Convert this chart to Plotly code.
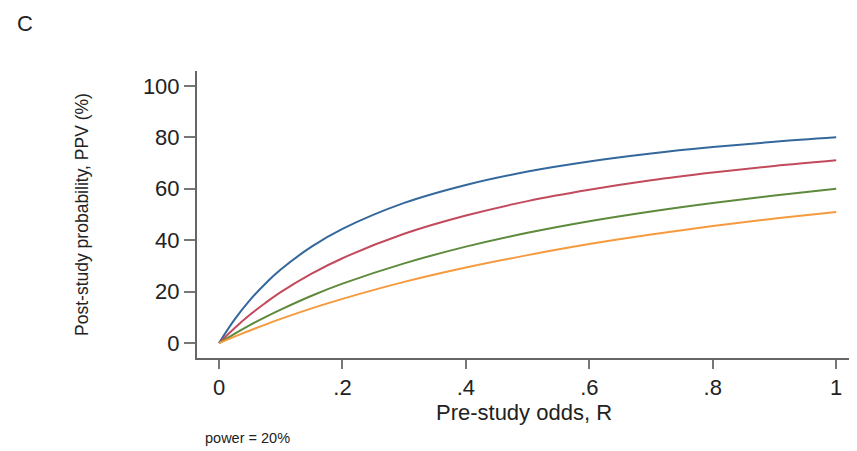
import plotly.graph_objects as go

R = [0, 0.025, 0.05, 0.075, 0.1, 0.15, 0.2, 0.3, 0.4, 0.5, 0.6, 0.7, 0.8, 0.9, 1.0]
ppv_blue   = [0, 9.1, 16.7, 23.1, 28.6, 37.5, 44.4, 54.5, 61.5, 66.7, 70.6, 73.7, 76.2, 78.3, 80.0]
ppv_red    = [0, 5.8, 11.0, 15.6, 19.8, 27.0, 33.0, 42.5, 49.6, 55.2, 59.6, 63.3, 66.3, 68.9, 71.1]
ppv_green  = [0, 3.6, 7.0, 10.1, 13.0, 18.4, 23.1, 31.0, 37.5, 42.9, 47.4, 51.2, 54.5, 57.4, 60.0]
ppv_orange = [0, 2.5, 4.9, 7.2, 9.4, 13.5, 17.2, 23.8, 29.4, 34.2, 38.5, 42.2, 45.5, 48.4, 51.0]

x_ticks = [0, 0.2, 0.4, 0.6, 0.8, 1.0]
x_ticklabels = ["0", ".2", ".4", ".6", ".8", "1"]
y_ticks = [0, 20, 40, 60, 80, 100]

series = [
    (ppv_blue, "#34689c"),
    (ppv_red, "#c24a5c"),
    (ppv_green, "#5d8a3c"),
    (ppv_orange, "#f69a3e"),
]

fig = go.Figure()
for vals, col in series:
    fig.add_trace(go.Scatter(x=R, y=vals, mode="lines", line=dict(color=col, width=2, shape="spline"),
                             showlegend=False))

font_family = "Liberation Sans, Arial, sans-serif"
fig.update_layout(
    width=857, height=451,
    margin=dict(l=189, r=14, t=63, b=101),
    plot_bgcolor="white", paper_bgcolor="white",
    font=dict(family=font_family, color="#222"),
    xaxis=dict(range=[-0.0357, 1.024], tickvals=x_ticks, ticktext=x_ticklabels,
               showgrid=False, zeroline=False, showline=True, linecolor="#666", linewidth=2,
               ticks="outside", ticklen=9, tickwidth=2, tickcolor="#777",
               tickfont=dict(size=22, color="#222"),
               title=dict(text="Pre-study odds, R", font=dict(size=22, color="#222"), standoff=0)),
    yaxis=dict(range=[-5.8, 105.8], tickvals=y_ticks,
               showgrid=False, zeroline=False, showline=True, linecolor="#666", linewidth=2,
               ticks="outside", ticklen=11, tickwidth=2, tickcolor="#777",
               tickfont=dict(size=22, color="#222"),
               title=dict(text="Post-study probability, PPV (%)", font=dict(size=17.5, color="#222"), standoff=50)),
    annotations=[
        dict(text="C", xref="paper", yref="paper", x=-0.278, y=1.165, xanchor="left", yanchor="middle",
             showarrow=False, font=dict(size=22, color="#222")),
        dict(text="power = 20%", xref="paper", yref="paper", x=0.009, y=-0.28, xanchor="left", yanchor="middle",
             showarrow=False, font=dict(size=14.5, color="#222")),
    ],
)

fig.write_html("out.html")
